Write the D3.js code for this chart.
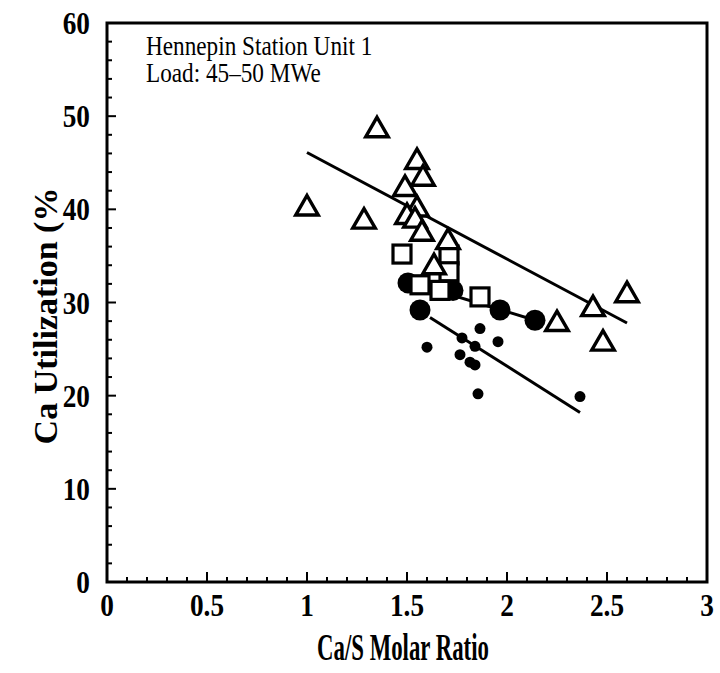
<!DOCTYPE html>
<html><head><meta charset="utf-8">
<script src="https://cdn.jsdelivr.net/npm/d3@7"></script>
<style>body{margin:0;background:#fff}svg{display:block}</style>
</head><body>
<svg id="c" width="720" height="673"></svg>
<script>
// Data (Ca/S molar ratio, Ca utilization %)
const triangles = [
  [1.0,40.3],[1.35,48.7],[1.285,38.9],[1.55,45.3],[1.58,43.5],[1.49,42.4],
  [1.55,40.2],[1.50,39.4],[1.54,39.0],[1.575,37.6],[1.705,36.7],[1.635,34.0],
  [2.25,27.9],[2.43,29.5],[2.6,31.0],[2.48,25.8]
];
const squares = [
  [1.475,35.2],[1.71,35.1],[1.71,33.3],[1.665,31.3],[1.565,31.9],[1.865,30.6]
];
const bigCircles = [
  [1.505,32.1],[1.565,29.2],[1.73,31.3],[1.965,29.2],[2.14,28.1]
];
const smallCircles = [
  [1.865,27.2],[1.6,25.2],[1.775,26.2],[1.84,25.3],[1.955,25.8],
  [1.765,24.4],[1.815,23.6],[1.84,23.3],[1.855,20.2],[2.365,19.9]
];
const fitLines = [
  [[1.0,46.1],[2.6,27.8]],
  [[1.6,31.6],[2.14,28.1]],
  [[1.615,28.4],[2.365,18.2]]
];
const xTicks = [0,0.5,1,1.5,2,2.5,3];
const xTickLabels = ["0","0.5","1","1.5","2","2.5","3"];
const xMinor = d3.range(0,31).map(d=>d/10);
const yTicks = [0,10,20,30,40,50,60];
const yTickLabels = ["0","10","20","30","40","50","60"];
const yMinor = d3.range(0,61,2);
const titleLines = ["Hennepin Station Unit 1","Load: 45\u201350 MWe"];

const svg = d3.select("#c");
const L=107,R=707,T=23,B=582;
const x = d3.scaleLinear().domain([0,3]).range([L,R]);
const y = d3.scaleLinear().domain([0,60]).range([B,T]);
const font = "'Liberation Serif','Times New Roman',serif";

// ticks (inward)
const tk = svg.append("g").attr("stroke","#000").attr("stroke-width",2);
tk.selectAll(".xm").data(xMinor).join("line").attr("class","xm")
  .attr("x1",d=>x(d)).attr("x2",d=>x(d)).attr("y1",B).attr("y2",d=>B-(xTicks.includes(d)?10:5));
tk.selectAll(".ym").data(yMinor).join("line").attr("class","ym")
  .attr("y1",d=>y(d)).attr("y2",d=>y(d)).attr("x1",L).attr("x2",d=>L+(yTicks.includes(d)?9:5));

// frame
svg.append("rect").attr("x",L).attr("y",T).attr("width",R-L).attr("height",B-T)
  .attr("fill","none").attr("stroke","#000").attr("stroke-width",3);

// tick labels
svg.append("g").selectAll("text").data(xTicks).join("text")
  .attr("transform",d=>`translate(${x(d)},616) scale(0.88,1.05)`).attr("text-anchor","middle")
  .attr("font-family",font).attr("font-weight","bold").attr("font-size",31)
  .text((d,i)=>xTickLabels[i]);
svg.append("g").selectAll("text").data(yTicks).join("text")
  .attr("transform",d=>`translate(90,${y(d)+11}) scale(0.88,1.05)`).attr("text-anchor","end")
  .attr("font-family",font).attr("font-weight","bold").attr("font-size",31)
  .text((d,i)=>yTickLabels[i]);

// axis titles
svg.append("text").attr("transform","translate(403,660) scale(0.6,1)").attr("text-anchor","middle")
  .attr("font-family",font).attr("font-weight","bold").attr("font-size",38)
  .text("Ca/S Molar Ratio");
svg.append("text").attr("transform","translate(57,316) rotate(-90)").attr("text-anchor","middle")
  .attr("font-family",font).attr("font-weight","bold").attr("font-size",34)
  .text("Ca Utilization (%");

// title
svg.append("g").selectAll("text").data(titleLines).join("text")
  .attr("transform",(d,i)=>`translate(146,${55+i*27}) scale(0.86,1)`)
  .attr("font-family",font).attr("font-size",27).text(d=>d);

// fit lines
const line = d3.line().x(d=>x(d[0])).y(d=>y(d[1]));
svg.append("g").selectAll("path").data(fitLines).join("path")
  .attr("d",line).attr("fill","none").attr("stroke","#000").attr("stroke-width",3);

// small filled circles
svg.append("g").selectAll("circle").data(smallCircles).join("circle")
  .attr("cx",d=>x(d[0])).attr("cy",d=>y(d[1])).attr("r",5.5).attr("fill","#000");
// big filled circles
svg.append("g").selectAll("circle").data(bigCircles).join("circle")
  .attr("cx",d=>x(d[0])).attr("cy",d=>y(d[1])).attr("r",10.5).attr("fill","#000");
// open squares
const s=18;
svg.append("g").selectAll("rect").data(squares).join("rect")
  .attr("x",d=>x(d[0])-s/2).attr("y",d=>y(d[1])-s/2).attr("width",s).attr("height",s)
  .attr("fill","#fff").attr("stroke","#000").attr("stroke-width",3.2);
// open triangles
const tri = d3.symbol().type(d3.symbolTriangle).size(220);
svg.append("g").selectAll("path").data(triangles).join("path")
  .attr("d",tri).attr("transform",d=>`translate(${x(d[0])},${y(d[1])+2})`)
  .attr("fill","#fff").attr("stroke","#000").attr("stroke-width",3.4).attr("stroke-linejoin","miter");
</script>
</body></html>
